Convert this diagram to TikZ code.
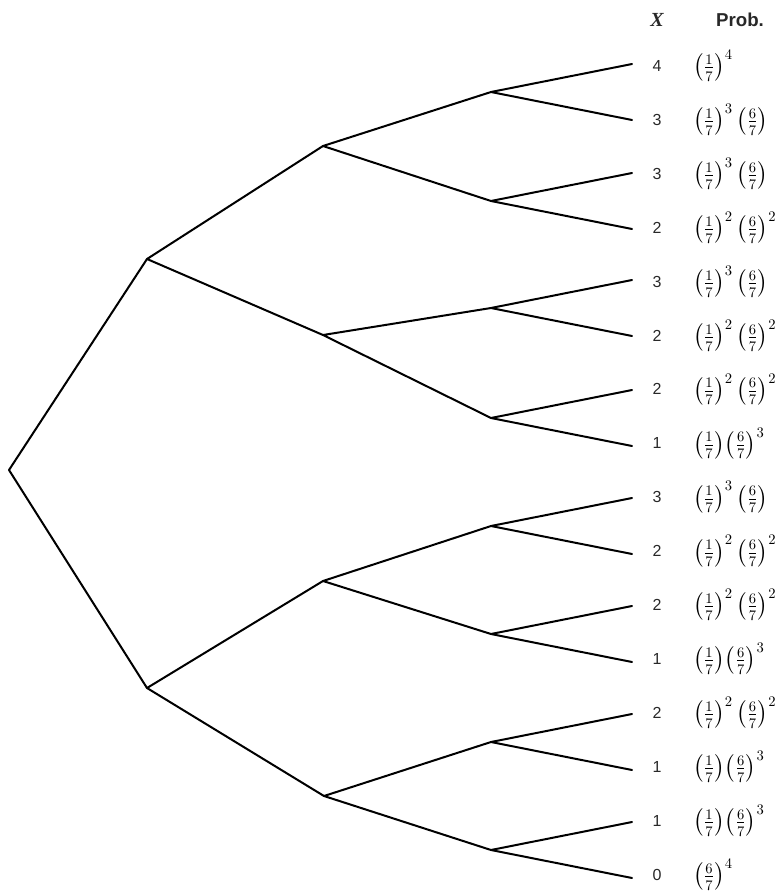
\documentclass[tikz,border=0pt]{standalone}
\usepackage{amsmath}
\usepackage{fontspec}
\setmainfont{Liberation Serif}
\setsansfont{Liberation Sans}
\definecolor{txt}{RGB}{40,40,40}
\tikzset{
  branch/.style={line width=1.5pt, line cap=round, line join=round},
  xlab/.style={font=\sffamily\fontsize{12}{14}\selectfont, text=txt, anchor=center, inner sep=0pt},
  plab/.style={font=\fontsize{16}{18}\selectfont, anchor=west, inner sep=0pt},
  hdr/.style={inner sep=0pt, anchor=base, text=txt}
}
\newcommand{\fa}{{\left(\tfrac{1}{7}\right)}}
\newcommand{\fb}{{\left(\tfrac{6}{7}\right)}}
\begin{document}
\begin{tikzpicture}[x=0.75pt,y=-0.75pt]
\useasboundingbox (0,0) rectangle (782,896);
% internal nodes
\coordinate (r) at (9,470);
\coordinate (a1) at (147,259);
\coordinate (a2) at (147,688);
\coordinate (b1) at (323,146);
\coordinate (b2) at (323,335);
\coordinate (b3) at (323,581);
\coordinate (b4) at (324,796);
\foreach \i/\y in {1/92,2/201,3/308,4/418,5/526,6/634,7/742,8/850}
  \coordinate (c\i) at (491,\y);
% leaves
\foreach \i/\y in {1/64,2/120,3/173,4/229,5/280,6/336,7/390,8/446,9/498,10/554,11/606,12/662,13/714,14/770,15/822,16/878}
  \coordinate (d\i) at (632,\y);
% branches
\draw[branch] (a1) -- (r) -- (a2);
\draw[branch] (b1) -- (a1) -- (b2);
\draw[branch] (b3) -- (a2) -- (b4);
\draw[branch] (c1) -- (b1) -- (c2);
\draw[branch] (c3) -- (b2) -- (c4);
\draw[branch] (c5) -- (b3) -- (c6);
\draw[branch] (c7) -- (b4) -- (c8);
\foreach \c/\u/\l in {1/1/2,2/3/4,3/5/6,4/7/8,5/9/10,6/11/12,7/13/14,8/15/16}
  \draw[branch] (d\u) -- (c\c) -- (d\l);
% headers
\node[hdr, font=\fontsize{15}{17}\selectfont\bfseries\itshape] (hx) at (657,26) {X};
\node[hdr, font=\sffamily\bfseries\fontsize{14}{16}\selectfont] (hp) at (740,26) {Prob.};
% labels
\foreach \i/\v/\p in {
  1/4/{\fa^{4}},
  2/3/{\fa^{3}\,\fb},
  3/3/{\fa^{3}\,\fb},
  4/2/{\fa^{2}\,\fb^{2}},
  5/3/{\fa^{3}\,\fb},
  6/2/{\fa^{2}\,\fb^{2}},
  7/2/{\fa^{2}\,\fb^{2}},
  8/1/{\fa\fb^{3}},
  9/3/{\fa^{3}\,\fb},
  10/2/{\fa^{2}\,\fb^{2}},
  11/2/{\fa^{2}\,\fb^{2}},
  12/1/{\fa\fb^{3}},
  13/2/{\fa^{2}\,\fb^{2}},
  14/1/{\fa\fb^{3}},
  15/1/{\fa\fb^{3}},
  16/0/{\fb^{4}}}
{
  \pgfmathsetmacro{\yy}{66+53.9*(\i-1)}
  \node[xlab] (x\i) at (657,\yy) {\v};
  \node[plab] (p\i) at (693,\yy) {$\p$};
}
\end{tikzpicture}
\end{document}
